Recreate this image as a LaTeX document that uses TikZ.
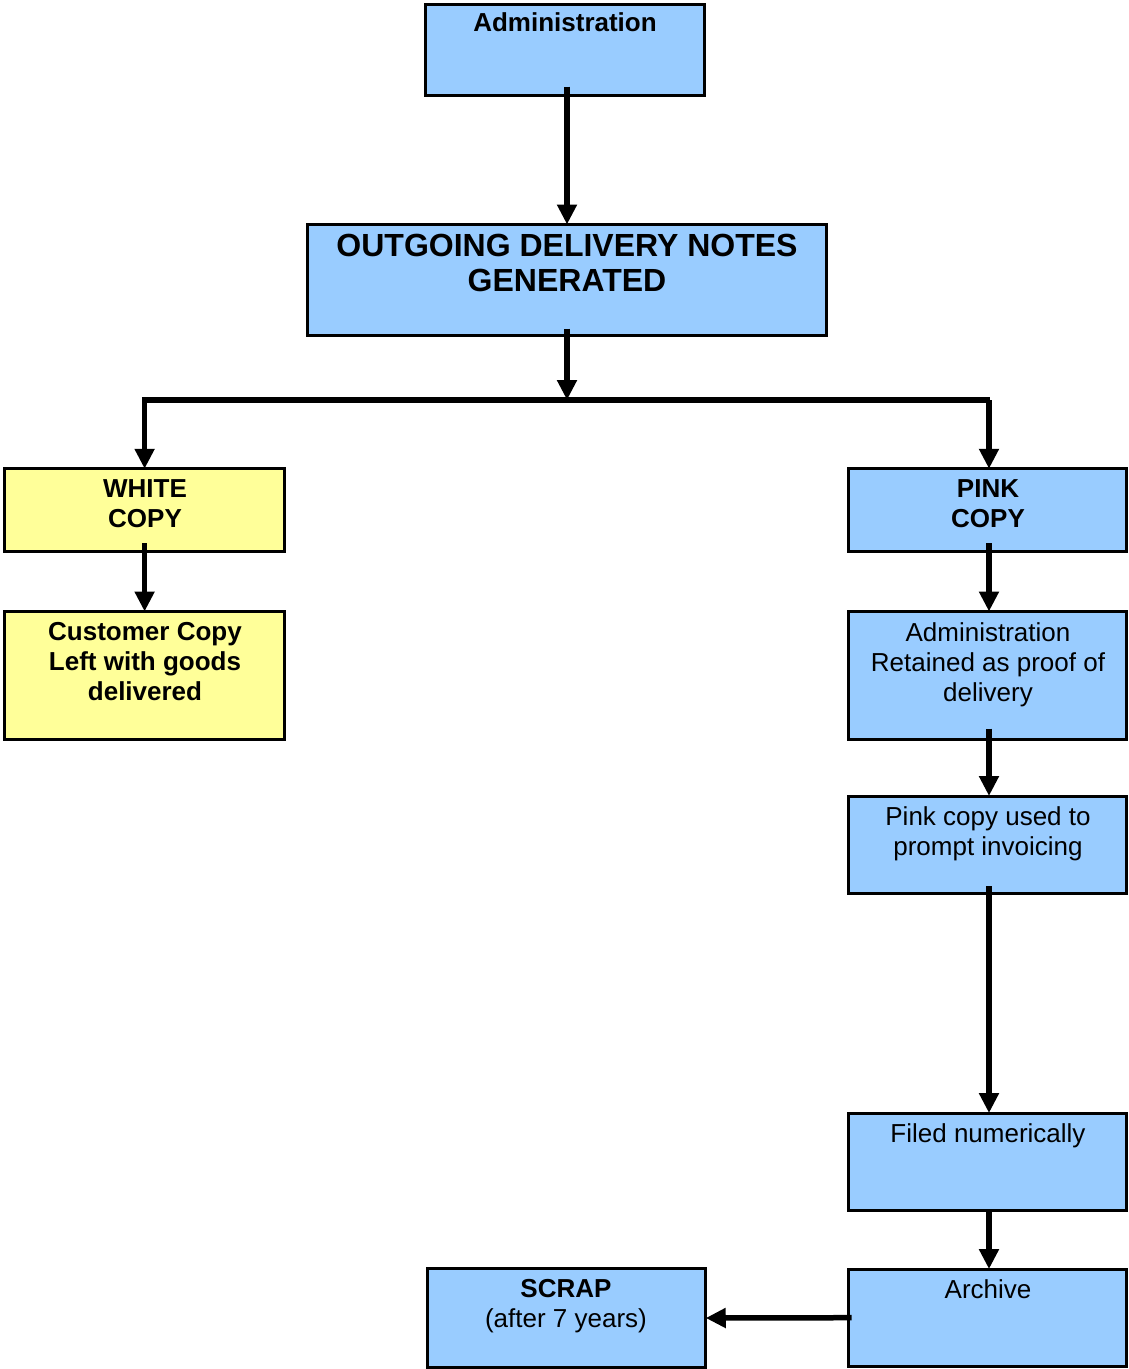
\documentclass[tikz,border=0pt]{standalone}
\usepackage{fontspec}
\setmainfont{Liberation Sans}
\usetikzlibrary{arrows.meta}
\definecolor{boxblue}{HTML}{99CCFF}
\definecolor{boxyellow}{HTML}{FFFF99}
\begin{document}
\begin{tikzpicture}[x=1pt,y=-1pt,
  box/.style={draw=black, line width=3pt, rectangle, inner sep=0pt, outer sep=0pt},
  bluebox/.style={box, fill=boxblue},
  yellowbox/.style={box, fill=boxyellow},
  txt/.style={anchor=north, align=center, inner sep=0pt, font=\fontsize{26}{30}\selectfont},
  bigtxt/.style={anchor=north, align=center, inner sep=0pt, font=\fontsize{32}{35.5}\selectfont\bfseries},
  conn/.style={line width=5.5pt, -{Triangle[length=20pt,width=19pt]}},
  plain/.style={line width=5.5pt},
]
\useasboundingbox (0,0) rectangle (1128,1369);

% boxes
\node[bluebox, minimum width=279.5pt, minimum height=90.3pt] (admin) at (565.2,49.9) {};
\node[bluebox, minimum width=519pt, minimum height=111pt] (outgoing) at (567,280) {};
\node[yellowbox, minimum width=280pt, minimum height=82.5pt] (white) at (144.6,510) {};
\node[yellowbox, minimum width=280pt, minimum height=128pt] (customer) at (144.6,675.5) {};
\node[bluebox, minimum width=277.8pt, minimum height=82.5pt] (pink) at (987.6,510) {};
\node[bluebox, minimum width=277.8pt, minimum height=128pt] (retained) at (987.6,675.5) {};
\node[bluebox, minimum width=277.8pt, minimum height=97pt] (used) at (987.6,844.5) {};
\node[bluebox, minimum width=277.8pt, minimum height=97.3pt] (filed) at (987.6,1161.7) {};
\node[bluebox, minimum width=277.8pt, minimum height=97.3pt] (archive) at (987.6,1317.7) {};
\node[bluebox, minimum width=278.5pt, minimum height=98.6pt] (scrap) at (566.5,1318) {};

% texts
\node[txt, font=\fontsize{26}{30}\selectfont\bfseries] (tadmin) at (565,12.5) {Administration};
\node[bigtxt] (toutgoing) at (567,233.5) {OUTGOING DELIVERY NOTES\\GENERATED};
\node[txt, font=\fontsize{26}{30}\selectfont\bfseries] (twhite) at (145,479) {WHITE\\COPY};
\node[txt, font=\fontsize{26}{30}\selectfont\bfseries] (tcustomer) at (145,622) {Customer Copy\\Left with goods\\delivered};
\node[txt, font=\fontsize{26}{30}\selectfont\bfseries] (tpink) at (988,479) {PINK\\COPY};
\node[txt] (tretained) at (988,622) {Administration\\Retained as proof of\\delivery};
\node[txt] (tused) at (988,806) {Pink copy used to\\prompt invoicing};
\node[txt] (tfiled) at (988,1123) {Filed numerically};
\node[txt] (tarchive) at (988,1279) {Archive};
\node[txt] (tscrap) at (566,1279) {\textbf{SCRAP}\\(after 7 years)};

% connectors
\coordinate (j) at (567,400);
\draw[conn, shorten <=-8.5pt] (admin.south -| outgoing.north) -- (outgoing.north);
\draw[conn, shorten <=-7pt] (outgoing.south) -- (j);
\draw[plain] ([xshift=-2.75pt]white.north |- j) -- ([xshift=2.75pt]pink.north |- j);
\draw[conn] (white.north |- j) -- (white.north);
\draw[conn] ([xshift=1.4pt]pink.north |- j) -- ([xshift=1.4pt]pink.north);
\draw[conn, shorten <=-8pt] (white.south) -- (customer.north);
\draw[conn, shorten <=-8pt] ([xshift=1.4pt]pink.south) -- ([xshift=1.4pt]retained.north);
\draw[conn, shorten <=-11pt] ([xshift=1.4pt]retained.south) -- ([xshift=1.4pt]used.north);
\draw[conn, shorten <=-7pt] ([xshift=1.4pt]used.south) -- ([xshift=1.4pt]filed.north);
\draw[conn] ([xshift=1.4pt]filed.south) -- ([xshift=1.4pt]archive.north);
\draw[conn, shorten <=-3pt] (archive.west) -- (scrap.east);
\end{tikzpicture}
\end{document}
